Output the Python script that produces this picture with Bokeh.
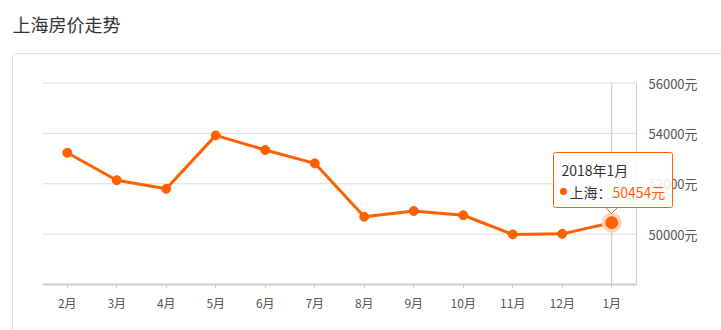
from bokeh.plotting import figure
from bokeh.models import (Range1d, FixedTicker, BoxAnnotation, Label, PolyAnnotation,
                          ColumnDataSource, LinearAxis)
from bokeh.embed import file_html
from bokeh.resources import INLINE

# ---- data ----
months = ["2月", "3月", "4月", "5月", "6月", "7月", "8月", "9月", "10月", "11月", "12月", "1月"]
prices = [53230, 52140, 51800, 53920, 53340, 52810, 50690, 50920, 50750, 49990, 50010, 50454]
y_ticks = [50000, 52000, 54000, 56000]
y_tick_labels = ["50000元", "52000元", "54000元", "56000元"]
title_text = "上海房价走势"
tip_title = "2018年1月"
tip_series = "上海："
tip_value = "50454元"

# ---- layout (pixels) ----
W, H = 721, 330
PX_L, PX_R = 42, 636          # plot area left/right
PY_T, PY_B = 82.5, 284        # plot area top/bottom
Y_MIN, Y_MAX = 48000, 56000
n = len(months)
x_idx = list(range(n))
xu = (PX_R - PX_L) / n
x_start = -0.5 - PX_L / xu
x_end = n - 0.5 + (W - PX_R) / xu
yu = (PY_B - PY_T) / (Y_MAX - Y_MIN)
y_start = Y_MIN - (H - PY_B) / yu
y_end = Y_MAX + PY_T / yu

FONT = "Noto Sans CJK SC"
ORANGE = "#ff6000"

p = figure(width=W, height=H, x_range=Range1d(x_start, x_end), y_range=Range1d(y_start, y_end),
           output_backend="svg", toolbar_location=None, x_axis_location=None, y_axis_location=None,
           min_border=0)
p.outline_line_color = None
p.background_fill_color = "white"
p.border_fill_color = "white"
p.xgrid.visible = False
p.ygrid.visible = False

# card and title
p.add_layout(BoxAnnotation(left=12, right=W + 20, top=H - 53, bottom=-20,
                           left_units="screen", right_units="screen", top_units="screen", bottom_units="screen",
                           fill_color="white", fill_alpha=1, line_color="#dcdcdc", line_alpha=1, line_width=1,
                           border_radius=4, level="underlay"))
p.add_layout(Label(x=12, y=H - 23, x_units="screen", y_units="screen", text=title_text,
                   text_font=FONT, text_font_size="18px", text_color="#333333", text_baseline="middle"))

# grid lines
p.segment(x0=-0.5, x1=n - 0.5, y0=y_ticks, y1=y_ticks, line_color="#dddddd", line_width=1)

# axes
xaxis = LinearAxis(fixed_location=Y_MIN, bounds=(-0.5, n - 0.5), ticker=FixedTicker(ticks=x_idx),
                   major_label_overrides={i: m for i, m in zip(x_idx, months)})
xaxis.axis_line_color = "#cccccc"
xaxis.axis_line_width = 2
xaxis.major_tick_line_color = "#cccccc"
xaxis.major_tick_in = 0
xaxis.major_tick_out = 4
xaxis.minor_tick_line_color = None
xaxis.major_label_text_font = FONT
xaxis.major_label_text_font_size = "12px"
xaxis.major_label_text_color = "#555555"
xaxis.major_label_standoff = 5
p.add_layout(xaxis, "below")

yaxis = LinearAxis(fixed_location=n - 0.5, bounds=(Y_MIN, Y_MAX), ticker=FixedTicker(ticks=y_ticks),
                   major_label_overrides={t: l for t, l in zip(y_ticks, y_tick_labels)})
yaxis.axis_line_color = "#cccccc"
yaxis.major_tick_line_color = None
yaxis.minor_tick_line_color = None
yaxis.major_label_text_font = FONT
yaxis.major_label_text_font_size = "13px"
yaxis.major_label_text_color = "#555555"
yaxis.major_label_standoff = 6
p.add_layout(yaxis, "right")

# crosshair at last month
p.segment(x0=[x_idx[-1]], y0=[Y_MIN], x1=[x_idx[-1]], y1=[Y_MAX], line_color="#c4c4c4", line_width=1)

src = ColumnDataSource(dict(x=x_idx, v=prices))
p.line("x", "v", source=src, line_color=ORANGE, line_width=3)
p.scatter("x", "v", source=src, size=9, fill_color=ORANGE, line_color=ORANGE)
p.scatter([x_idx[-1]], [prices[-1]], size=20, fill_color="#ffd3bd", line_color=None)
p.scatter([x_idx[-1]], [prices[-1]], size=12, fill_color=ORANGE, line_color=ORANGE)

# tooltip
p.add_layout(BoxAnnotation(left=553, right=672, top=H - 152, bottom=H - 207,
                           left_units="screen", right_units="screen", top_units="screen", bottom_units="screen",
                           fill_color="white", fill_alpha=0.88, line_color=ORANGE, line_alpha=1, line_width=1,
                           border_radius=2))
p.add_layout(PolyAnnotation(xs=[605, 617, 611], ys=[H - 206.3, H - 206.3, H - 213],
                            xs_units="screen", ys_units="screen",
                            fill_color="white", fill_alpha=1, line_color=None))
p.add_layout(PolyAnnotation(xs=[605, 611, 617], ys=[H - 207, H - 213, H - 207],
                            xs_units="screen", ys_units="screen",
                            fill_color=None, fill_alpha=0, line_color=ORANGE, line_alpha=1, line_width=1))
p.add_layout(Label(x=561, y=H - 169, x_units="screen", y_units="screen", text=tip_title,
                   text_font=FONT, text_font_size="14px", text_color="#333333", text_baseline="middle"))
p.add_layout(Label(x=563, y=H - 191, x_units="screen", y_units="screen", text="●",
                   text_font=FONT, text_font_size="8px", text_color=ORANGE, text_baseline="middle", text_align="center"))
p.add_layout(Label(x=569, y=H - 191, x_units="screen", y_units="screen", text=tip_series,
                   text_font=FONT, text_font_size="14px", text_color="#333333", text_baseline="middle"))
p.add_layout(Label(x=612, y=H - 191, x_units="screen", y_units="screen", text=tip_value,
                   text_font=FONT, text_font_size="14px", text_color=ORANGE, text_baseline="middle"))

open("out.html", "w").write(file_html(p, INLINE))
